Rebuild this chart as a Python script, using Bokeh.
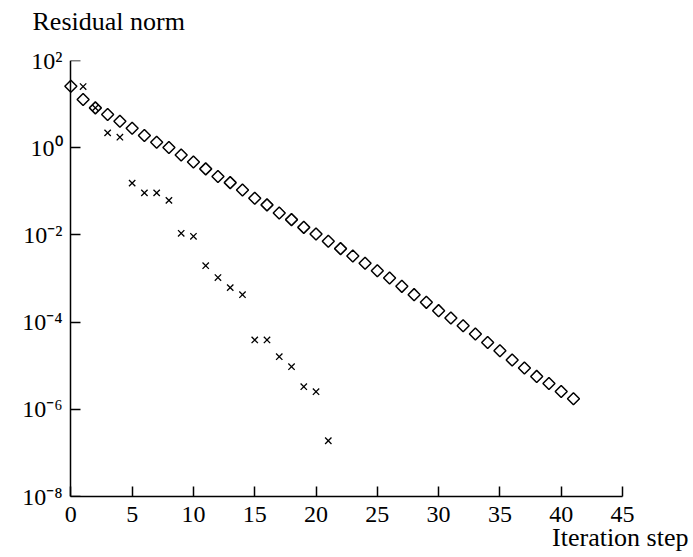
import numpy as np
from bokeh.plotting import figure
from bokeh.models import (Range1d, FixedTicker, Title, CustomJSTickFormatter, LogAxis)
from bokeh.embed import file_html
from bokeh.resources import INLINE

# --- data ---
steps_diamond = list(range(0, 42))
norm_diamond = [25.7, 12.7, 8.2, 5.76, 4.05, 2.79, 1.90, 1.33, 1.01, 0.678,
                0.468, 0.327, 0.218, 0.158, 0.107, 0.0692, 0.0488, 0.0319, 0.0224, 0.0149,
                0.0105, 0.00716, 0.00484, 0.00329, 0.00224, 0.00151, 0.00103, 6.61e-4, 4.26e-4, 2.84e-4,
                1.83e-4, 1.24e-4, 8.28e-5, 5.34e-5, 3.42e-5, 2.21e-5, 1.35e-5, 8.85e-6, 5.68e-6, 3.92e-6,
                2.57e-6, 1.75e-6]
steps_cross = list(range(1, 22))
norm_cross = [25.3, 8.2, 2.19, 1.74, 0.154, 0.092, 0.092, 0.062, 0.01086, 0.00927,
              0.00197, 0.00105, 6.17e-4, 4.26e-4, 3.89e-5, 3.89e-5, 1.61e-5, 9.48e-6, 3.30e-6, 2.53e-6,
              1.90e-7]
x_ticks = [0, 5, 10, 15, 20, 25, 30, 35, 40, 45]
y_ticks = [1e-8, 1e-6, 1e-4, 1e-2, 1e0, 1e2]
x_title = "Iteration step"
y_title = "Residual norm"

FONT = "Liberation Serif"

# a little room left of x=0 so that the first marker is not cut by the frame;
# the vertical axis line itself is pinned at x=0
p = figure(frame_width=559, frame_height=436,
           min_border_left=63, min_border_right=70, min_border_top=60, min_border_bottom=60,
           x_range=Range1d(-0.6, 45), y_range=Range1d(1e-8, 1e2),
           y_axis_type="log", output_backend="svg", toolbar_location=None,
           background_fill_color="white", border_fill_color="white")
p.outline_line_color = None
p.grid.visible = False

sup_formatter = CustomJSTickFormatter(code="""
const sup = {"0":"\u2070","1":"\u00b9","2":"\u00b2","3":"\u00b3","4":"\u2074",
             "5":"\u2075","6":"\u2076","7":"\u2077","8":"\u2078","9":"\u2079","-":"\u207b"};
const e = Math.round(Math.log10(tick));
return "10" + String(e).split("").map(c => sup[c]).join("");
""")

# x axis
xa = p.xaxis[0]
xa.ticker = FixedTicker(ticks=x_ticks)
xa.bounds = (0, 45)
xa.axis_line_color = "black"
xa.axis_line_width = 1.5
xa.major_tick_line_color = "black"
xa.major_tick_line_width = 1.5
xa.major_tick_in = 10
xa.major_tick_out = 0
xa.minor_tick_line_color = None
xa.major_label_text_font = FONT
xa.major_label_text_font_size = "24px"
xa.major_label_text_color = "black"
xa.major_label_standoff = 10

# y axis, labels only (at the frame edge)
ya = p.yaxis[0]
ya.ticker = FixedTicker(ticks=y_ticks)
ya.formatter = sup_formatter
ya.axis_line_color = None
ya.major_tick_line_color = None
ya.minor_tick_line_color = None
ya.major_tick_in = 0
ya.major_tick_out = 0
ya.major_label_text_font = FONT
ya.major_label_text_font_size = "24px"
ya.major_label_text_color = "black"
ya.major_label_standoff = 1

# y axis line and ticks, pinned at x = 0
yline = LogAxis(ticker=FixedTicker(ticks=y_ticks), fixed_location=0,
                formatter=CustomJSTickFormatter(code="return '';"),
                axis_line_color="black", axis_line_width=1.5,
                major_tick_line_color="black", major_tick_line_width=1.5,
                major_tick_in=10, major_tick_out=0, minor_tick_line_color=None,
                major_label_standoff=0)
p.add_layout(yline, "left")

p.scatter(steps_diamond, norm_diamond, marker="square", angle=np.pi / 4, size=8.5,
          fill_color=None, line_color="black", line_width=1.5)
p.scatter(steps_cross, norm_cross, marker="x", size=9,
          line_color="black", line_width=1.3)

# spacer (closest to the frame) and the vertical-axis title above it
p.add_layout(Title(text=" ", standoff=0, text_font=FONT, text_font_size="19px"), "above")
p.add_layout(Title(text=y_title, align="left", offset=-31, standoff=0,
                   vertical_align="top", text_font=FONT, text_font_size="26px",
                   text_font_style="normal", text_color="black"), "above")
p.add_layout(Title(text=x_title, align="right", offset=-66, standoff=-8,
                   vertical_align="bottom", text_font=FONT, text_font_size="26px",
                   text_font_style="normal", text_color="black"), "below")

open("out.html", "w").write(file_html(p, INLINE))
